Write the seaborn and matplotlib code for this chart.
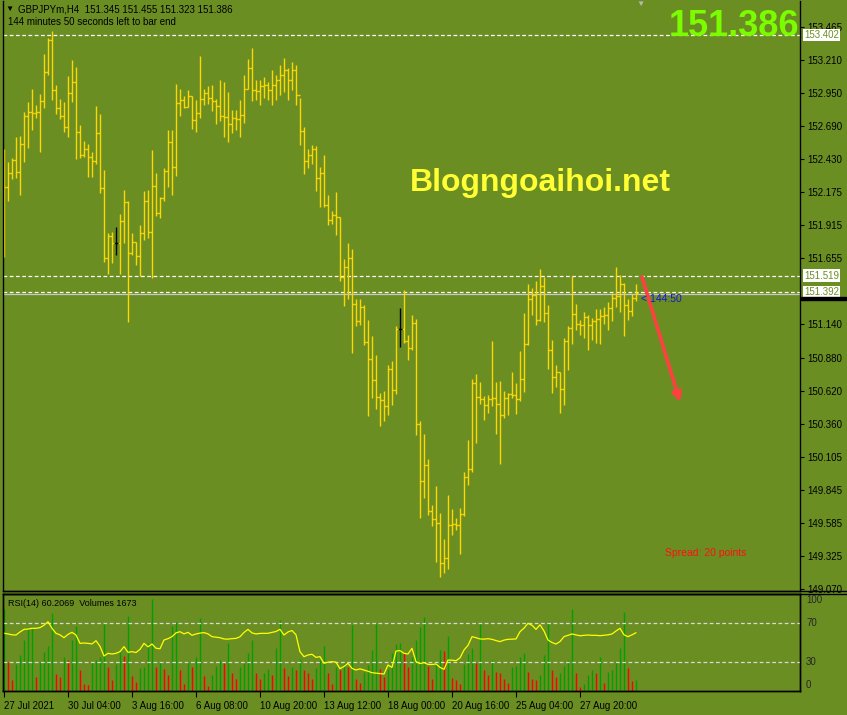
import numpy as np
import pandas as pd
import matplotlib
matplotlib.use("Agg")
import matplotlib.pyplot as plt
from matplotlib.lines import Line2D
from matplotlib.patches import Rectangle
from matplotlib.transforms import blended_transform_factory
import seaborn as sns

# GBPJPYm H4 bars
first_open = 152.300
highs = [
    152.511, 152.409, 152.440, 152.605, 152.612, 152.800, 152.878, 152.980, 152.855, 152.941,
    153.254, 153.379, 153.434, 153.011, 152.902, 152.878, 153.082, 153.207, 153.152, 152.698,
    152.573, 152.550, 152.487, 152.847, 152.785, 152.347, 151.854, 151.862, 151.901, 152.003,
    152.190, 152.104, 151.854, 151.784, 151.916, 152.182, 152.190, 152.503, 152.323, 152.135,
    152.362, 152.659, 152.659, 153.019, 152.980, 152.925, 152.972, 152.925, 152.894, 153.238,
    152.980, 153.003, 153.011, 152.902, 153.050, 153.035, 152.957, 152.816, 152.816, 152.894,
    153.089, 153.215, 153.301, 153.050, 153.050, 153.074, 153.035, 153.129, 153.089, 153.168,
    153.222, 153.144, 153.191, 153.168, 152.910, 152.683, 152.511, 152.542, 152.534, 152.370,
    152.464, 152.151, 152.026, 152.175, 151.979, 151.651, 151.776, 151.729, 151.338, 151.338,
    151.291, 151.174, 151.048, 150.900, 150.603, 150.618, 150.822, 150.853, 151.127, 151.267,
    151.408, 151.056, 151.213, 151.181, 150.384, 150.282, 150.087, 149.727, 149.875, 149.664,
    149.461, 149.805, 149.696, 149.625, 149.703, 149.985, 150.235, 150.712, 150.751, 150.689,
    150.579, 150.587, 151.009, 150.689, 150.697, 150.618, 150.603, 150.767, 150.681, 150.931,
    151.228, 151.455, 151.424, 151.479, 151.572, 151.510, 151.291, 151.017, 150.822, 150.767,
    151.033, 151.127, 151.518, 151.299, 151.174, 151.236, 151.213, 151.189, 151.260, 151.260,
    151.275, 151.314, 151.385, 151.588, 151.526, 151.463, 151.338, 151.377, 151.455]
lows = [
    151.666, 152.104, 152.276, 152.284, 152.151, 152.409, 152.519, 152.659, 152.753, 152.487,
    152.831, 153.089, 152.894, 152.785, 152.745, 152.644, 152.605, 152.878, 152.433, 152.440,
    152.448, 152.292, 152.292, 152.394, 152.167, 151.627, 151.533, 151.619, 151.682, 151.533,
    151.776, 151.158, 151.682, 151.604, 151.518, 151.799, 151.815, 151.502, 151.987, 151.971,
    152.104, 152.214, 152.151, 152.300, 152.769, 152.831, 152.839, 152.667, 152.644, 152.753,
    152.855, 152.863, 152.808, 152.706, 152.730, 152.605, 152.566, 152.636, 152.659, 152.605,
    152.714, 152.980, 152.886, 152.894, 152.855, 152.910, 152.894, 152.855, 152.894, 152.933,
    152.957, 152.894, 152.972, 152.855, 152.542, 152.315, 152.362, 152.394, 152.182, 152.057,
    152.057, 151.916, 151.924, 151.838, 151.479, 151.283, 151.338, 150.916, 151.127, 151.134,
    150.978, 150.423, 150.564, 150.478, 150.345, 150.384, 150.431, 150.509, 150.595, 150.962,
    150.994, 150.861, 150.939, 150.274, 149.625, 149.782, 149.649, 149.563, 149.281, 149.164,
    149.195, 149.226, 149.492, 149.531, 149.344, 149.641, 149.883, 149.985, 150.212, 150.517,
    150.392, 150.446, 150.501, 150.282, 150.048, 150.407, 150.431, 150.564, 150.439, 150.540,
    150.611, 150.978, 151.213, 151.134, 151.166, 151.158, 150.790, 150.603, 150.650, 150.446,
    150.509, 150.783, 150.986, 151.095, 151.056, 151.033, 150.939, 151.017, 150.994, 150.986,
    151.142, 151.095, 151.166, 151.275, 151.236, 151.049, 151.174, 151.205, 151.323]
closes = [
    152.214, 152.323, 152.425, 152.331, 152.550, 152.769, 152.800, 152.792, 152.800, 152.886,
    153.113, 153.363, 152.972, 152.831, 152.769, 152.683, 152.949, 153.035, 152.644, 152.464,
    152.511, 152.448, 152.417, 152.636, 152.206, 151.658, 151.830, 151.776, 151.776, 151.948,
    152.096, 151.698, 151.784, 151.674, 151.854, 152.104, 151.862, 152.221, 152.010, 152.128,
    152.339, 152.566, 152.370, 152.871, 152.894, 152.839, 152.925, 152.738, 152.792, 152.902,
    152.949, 152.910, 152.886, 152.847, 152.769, 152.761, 152.706, 152.753, 152.745, 152.777,
    152.980, 153.144, 152.972, 152.965, 153.003, 153.011, 152.972, 153.011, 153.050, 153.089,
    153.129, 153.050, 153.129, 152.933, 152.652, 152.417, 152.464, 152.511, 152.284, 152.323,
    152.073, 151.956, 151.995, 151.979, 151.510, 151.588, 151.658, 151.299, 151.166, 151.275,
    151.002, 150.869, 150.704, 150.571, 150.548, 150.501, 150.790, 150.626, 151.103, 151.103,
    151.009, 150.955, 151.150, 150.360, 149.915, 150.039, 149.680, 149.617, 149.586, 149.273,
    149.312, 149.570, 149.578, 149.570, 149.657, 149.946, 150.008, 150.681, 150.571, 150.556,
    150.509, 150.556, 150.564, 150.517, 150.431, 150.564, 150.595, 150.590, 150.556, 150.712,
    150.986, 151.338, 151.369, 151.174, 151.440, 151.228, 150.939, 150.728, 150.767, 150.634,
    151.009, 151.111, 151.221, 151.142, 151.134, 151.197, 151.134, 151.166, 151.181, 151.205,
    151.210, 151.267, 151.346, 151.361, 151.455, 151.291, 151.244, 151.346, 151.386]

volumes = [
    12029, 4289, 1676, 3944, 5275, 7494, 9071, 9170, 2071, 4289,
    5768, 6606, 11438, 2465, 2071, 5029, 4536, 7494, 9466, 3057,
    1085, 838, 4289, 4536, 5029, 9959, 3451, 1676, 3944, 5768,
    5127, 10945, 2169, 1331, 3303, 3550, 7001, 13410, 3451, 4289,
    3155, 2317, 9466, 10057, 3057, 1085, 4437, 3550, 5029, 10698,
    2169, 690, 2317, 3648, 4536, 4043, 7001, 2564, 1824, 3550,
    4043, 5522, 7494, 2564, 1824, 2564, 3155, 2317, 6261, 10452,
    3303, 2169, 3550, 3057, 4634, 3057, 2564, 1824, 3303, 4536,
    6606, 2564, 1085, 3550, 3057, 4043, 3451, 9712, 1824, 1183,
    2810, 3796, 6015, 9860, 3155, 2071, 3155, 5522, 6853, 7001,
    5620, 3451, 5029, 7494, 9367, 10846, 3648, 1824, 4289, 6015,
    5916, 7987, 1972, 1676, 1085, 3944, 5423, 6261, 4043, 9959,
    3057, 2317, 4536, 2810, 2564, 1824, 1183, 3550, 3648, 5029,
    5620, 2810, 1824, 1578, 2317, 5275, 9959, 3057, 2071, 2564,
    3648, 4536, 11931, 2662, 592, 986, 2317, 3057, 2564, 5029,
    1183, 2810, 3057, 4289, 6261, 11536, 3303, 1479, 1673]

rsi = [
    59.6, 59.0, 58.0, 57.8, 61.0, 63.7, 64.0, 64.8, 64.8, 65.5,
    68.0, 71.7, 64.8, 59.6, 58.0, 55.0, 58.5, 60.6, 57.8, 49.1,
    49.5, 49.1, 48.5, 51.9, 46.0, 35.9, 38.7, 38.0, 38.7, 40.5,
    45.7, 39.7, 40.5, 39.5, 42.9, 49.1, 45.5, 48.4, 44.0, 43.5,
    52.6, 54.0, 56.1, 60.0, 61.3, 59.0, 60.6, 57.5, 58.9, 59.8,
    60.3, 59.0, 56.1, 55.5, 55.0, 53.7, 53.5, 54.0, 54.3, 56.0,
    60.5, 63.7, 60.0, 58.9, 59.5, 59.6, 59.6, 60.5, 61.5, 63.7,
    57.8, 61.0, 62.5, 58.0, 40.4, 35.2, 37.0, 37.7, 34.5, 35.2,
    28.3, 29.5, 30.0, 29.5, 22.7, 25.0, 28.3, 23.0, 21.3, 22.5,
    21.3, 20.0, 18.5, 18.0, 17.5, 17.1, 26.5, 24.0, 41.1, 41.5,
    38.7, 38.0, 43.9, 30.0, 28.0, 29.0, 27.2, 27.0, 27.6, 24.0,
    22.0, 31.7, 31.5, 31.0, 34.0, 42.2, 47.0, 56.1, 55.0, 53.7,
    53.5, 54.0, 53.3, 52.0, 50.9, 52.5, 53.3, 53.5, 53.7, 61.3,
    65.0, 70.0, 68.0, 63.7, 68.5, 62.0, 52.6, 50.0, 48.4, 51.0,
    56.1, 57.5, 58.9, 58.0, 57.0, 57.5, 57.8, 57.5, 57.5, 57.1,
    57.5, 58.0, 58.9, 62.0, 64.8, 58.0, 56.1, 58.0, 60.2]

date_bars = [1, 17, 33, 49, 65, 81, 97, 113, 129, 145]
date_labels = ["27 Jul 2021", "30 Jul 04:00", "3 Aug 16:00", "6 Aug 08:00",
               "10 Aug 20:00", "13 Aug 12:00", "18 Aug 00:00", "20 Aug 16:00",
               "25 Aug 04:00", "27 Aug 20:00"]
price_ticks = [153.465, 153.210, 152.950, 152.690, 152.430, 152.175, 151.915, 151.655,
               151.140, 150.880, 150.620, 150.360, 150.105, 149.845, 149.585, 149.325, 149.070]
level_lines = [153.402, 151.519, 151.392]
bid = 151.386
arrow_start = (160.5, 151.510)
arrow_end = (170.0, 150.532)

sns.set_style("ticks")
plt.rcParams["font.family"] = ["Liberation Sans", "DejaVu Sans"]

olive = "#6B8E23"
W, H = 847, 715
fig = plt.figure(figsize=(W / 100, H / 100), dpi=100, facecolor=olive)


def px_axes(x0, y0, x1, y1):
    return fig.add_axes([x0 / W, 1 - y1 / H, (x1 - x0) / W, (y1 - y0) / H])


def fy(y):
    return 1 - y / H


bars = pd.DataFrame({"n": np.arange(1, len(closes) + 1), "high": highs,
                     "low": lows, "close": closes, "volume": volumes, "rsi": rsi})
bars["open"] = bars["close"].shift(1).fillna(first_open)

# ---- price window
ax = px_axes(3, 1, 800, 591)
ax.set_facecolor(olive)
ax.set_xlim(0.75, 200)
ax.set_ylim(149.054, 153.668)

bar_col = np.where(np.isclose(bars["open"], bars["close"], atol=0.0005), "black", "#FFD700")
ax.vlines(bars["n"], bars["low"], bars["high"], colors=bar_col, lw=1.0)
ax.hlines(bars["open"], bars["n"] - 0.55, bars["n"], colors=bar_col, lw=1.0)
ax.hlines(bars["close"], bars["n"], bars["n"] + 0.55, colors=bar_col, lw=1.0)

for lv in level_lines:
    ax.axhline(lv, color="white", lw=0.9, ls=(0, (3, 2)), zorder=1)
ax.axhline(bid - 0.008, color="#C8C8C8", lw=0.9, zorder=1)

ax.yaxis.tick_right()
ax.set_yticks(price_ticks)
ax.set_yticklabels([f"{t:.3f}" for t in price_ticks])
ax.tick_params(axis="y", direction="out", length=3, width=0.8, colors="black",
               labelsize=7, pad=2)
ax.set_xticks([])
for s in ["left", "right", "bottom"]:
    ax.spines[s].set_color("black")
    ax.spines[s].set_linewidth(1.0)
ax.spines["top"].set_visible(False)

tr = blended_transform_factory(ax.transAxes, ax.transData)
fig.patches.append(Rectangle((801 / W, fy(299.5)), 45 / W, 2.5 / H, color="black",
                             transform=fig.transFigure))
for lv in level_lines:
    ax.text(1.0 + 4 / 797, lv, f"{lv:.3f}", transform=tr, ha="left", va="center",
            fontsize=7, color=olive, clip_on=False, zorder=6,
            bbox=dict(boxstyle="square,pad=0.15", fc="white", ec="none"))

ax.annotate("", xy=arrow_end, xytext=arrow_start,
            arrowprops=dict(arrowstyle="-|>", color="#FF4040", lw=2.6,
                            mutation_scale=13, shrinkA=0, shrinkB=0))

# ---- RSI + volumes window
rax = px_axes(3, 594, 800, 691)
rax.set_facecolor(olive)
rax.set_xlim(0.75, 200)
rax.set_ylim(0, 14200)
vol_col = np.where(bars["volume"].diff().fillna(1) > 0, "#00A000", "#FF0000")
rax.vlines(bars["n"], 0, bars["volume"], colors=vol_col, lw=1.0)
rax.set_yticks([])

sax = rax.twinx()
sax.set_ylim(-0.6, 100.6)
sax.axhline(70, color="#D8D8D8", lw=0.9, ls=(0, (3, 2)))
sax.axhline(30, color="#D8D8D8", lw=0.9, ls=(0, (3, 2)))
sns.lineplot(data=bars, x="n", y="rsi", ax=sax, color="#FFFF00", lw=0.9)
sax.set_ylabel("")
sax.set_yticks([])
for a in (rax, sax):
    for s in a.spines.values():
        s.set_color("black")
        s.set_linewidth(1.0)

rax.set_xlabel("")
rax.set_xticks(date_bars)
rax.set_xticklabels(date_labels)
rax.tick_params(axis="x", direction="out", length=4, width=0.8, colors="black",
                labelsize=7, pad=3)
for lbl in rax.get_xticklabels():
    lbl.set_ha("left")

for val, y in [("100", 600), ("70", 623), ("30", 662), ("0", 685)]:
    fig.text(806 / W, fy(y), val, fontsize=7, va="center", ha="left")

# frame lines running into the scale area
fig.add_artist(Line2D([3 / W, 1], [fy(591), fy(591)], color="black", lw=1.0))
fig.add_artist(Line2D([3 / W, 1], [fy(594), fy(594)], color="black", lw=1.0))

# ---- texts
fig.text(9 / W, fy(9), "▼", fontsize=6, color="black", ha="center", va="center")
fig.text(18 / W, fy(9), "GBPJPYm,H4  151.345 151.455 151.323 151.386",
         fontsize=7, color="black", va="center")
fig.text(8 / W, fy(22), "144 minutes 50 seconds left to bar end",
         fontsize=7, color="black", va="center")
fig.text(640 / W, fy(4), "▼", fontsize=6, color="#B8B8B8", ha="center", va="center")
fig.text(799 / W, fy(26), "151.386", fontsize=26, fontweight="bold",
         color="#7CFC00", ha="right", va="center", zorder=10)
fig.text(410 / W, fy(183), "Blogngoaihoi.net", fontsize=23, fontweight="bold",
         color="#FFFF33", ha="left", va="center")
fig.text(641 / W, fy(299), "< 144:50", fontsize=7.5, color="#1515D8", va="center")
fig.text(665 / W, fy(553), "Spread: 20 points", fontsize=7.5, color="#FF1010", va="center")
fig.text(8 / W, fy(604), "RSI(14) 60.2069  Volumes 1673", fontsize=6.5,
         color="black", va="center")

fig.savefig("out.png", dpi=100, facecolor=olive)
